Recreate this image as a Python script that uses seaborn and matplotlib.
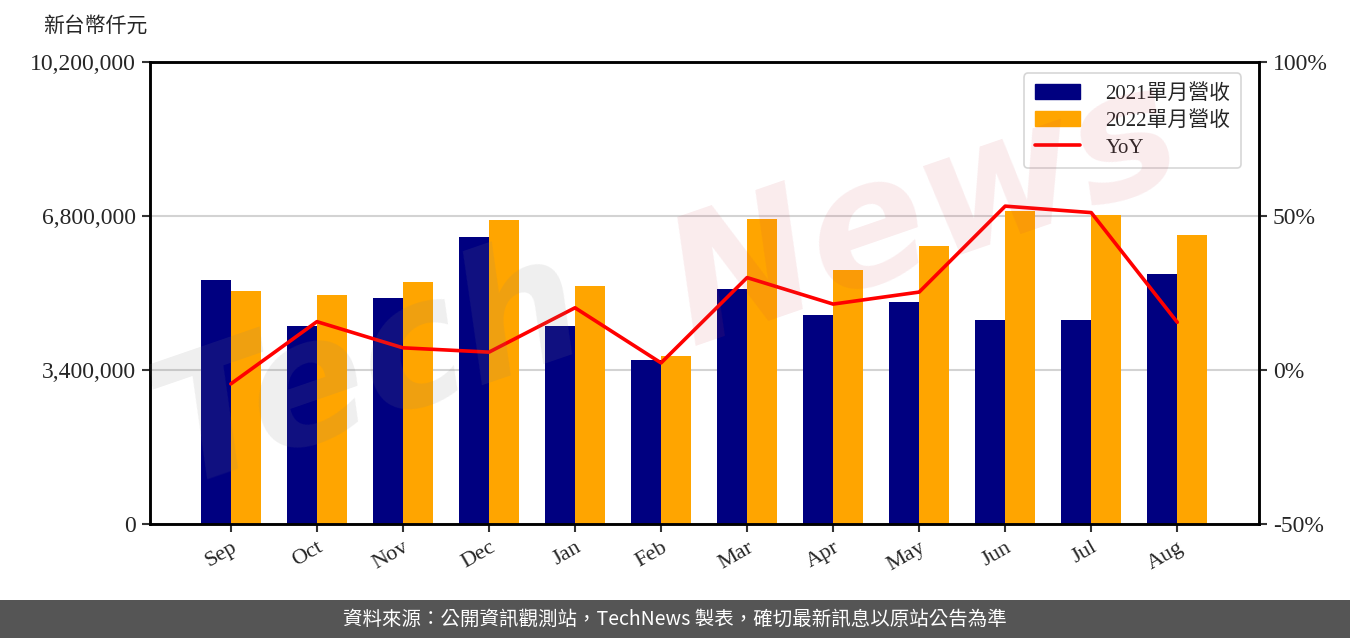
import numpy as np
import pandas as pd
import matplotlib
matplotlib.use("Agg")
import matplotlib.pyplot as plt
from matplotlib.lines import Line2D
from matplotlib.patches import Patch
import seaborn as sns

# data (thousand NTD / %)
months = ["Sep", "Oct", "Nov", "Dec", "Jan", "Feb", "Mar", "Apr", "May", "Jun", "Jul", "Aug"]
rev_2021 = [5387000, 4371000, 4990000, 6336000, 4371000, 3621000,
            5188000, 4614000, 4901000, 4504000, 4504000, 5519000]
rev_2022 = [5144000, 5056000, 5343000, 6712000, 5254000, 3709000,
            6734000, 5608000, 6138000, 6910000, 6822000, 6381000]
yoy = [-4.5, 15.7, 7.2, 5.8, 20.2, 2.3, 30.0, 21.4, 25.3, 53.2, 51.1, 15.5]

left_ticks = [0, 3400000, 6800000, 10200000]
right_ticks = [-50, 0, 50, 100]
label_2021 = "2021單月營收"
label_2022 = "2022單月營收"

sns.set_theme(style="white")
plt.rcParams["font.family"] = ["Liberation Serif", "Noto Sans CJK TC"]
plt.rcParams["axes.unicode_minus"] = False

df = pd.DataFrame({
    "month": months * 2,
    "rev": rev_2021 + rev_2022,
    "year": [label_2021] * len(months) + [label_2022] * len(months),
})

fig = plt.figure(figsize=(13.5, 6.38), dpi=100)
ax = fig.add_axes([150 / 1350, 114 / 638, 1109 / 1350, 462 / 638])

sns.barplot(data=df, x="month", y="rev", hue="year", order=months,
            hue_order=[label_2021, label_2022],
            palette=["#000080", "#FFA500"], width=0.7, saturation=1,
            linewidth=0, legend=False, ax=ax, zorder=2)

ax.set_xlim(-0.94, 11.95)
ax.set_ylim(0, 10200000)
ax.set_yticks(left_ticks)
ax.set_yticklabels([f"{v:,}" for v in left_ticks], fontsize=17)
ax.set_xlabel("")
ax.set_ylabel("")
ax.set_xticks(range(len(months)))
ax.set_xticklabels(months, rotation=30, ha="right", rotation_mode="anchor",
                   fontsize=16)
ax.grid(axis="y", color="#d3d3d3", linewidth=1.5, zorder=0)
ax.set_axisbelow(True)
for s in ax.spines.values():
    s.set_color("black")
    s.set_linewidth(1.8)
ax.tick_params(axis="both", which="both", direction="out", length=6,
               width=1.5, color="#333333", left=True, bottom=True, pad=4)

ax2 = ax.twinx()
sns.lineplot(x=np.arange(len(months)), y=yoy, color="red", linewidth=2.6,
             ax=ax2, zorder=3)
ax2.set_ylim(-50, 100)
ax2.set_yticks(right_ticks)
ax2.set_yticklabels([f"{v}%" for v in right_ticks], fontsize=17)
ax2.set_xlim(-0.94, 11.95)
ax2.tick_params(axis="y", direction="out", length=6, width=1.5,
                color="#333333", right=True, pad=4)
for s in ax2.spines.values():
    s.set_color("black")
    s.set_linewidth(1.8)

handles = [Patch(color="#000080", label=label_2021),
           Patch(color="#FFA500", label=label_2022),
           Line2D([0], [0], color="red", linewidth=2.6, label="YoY")]
leg = ax2.legend(handles=handles, loc="upper right", fontsize=15,
                 frameon=True, bbox_to_anchor=(0.993, 0.998),
                 handlelength=2.2, handletextpad=1.2, borderpad=0.5,
                 labelspacing=0.35)
leg.get_frame().set_edgecolor("#cccccc")
leg.get_frame().set_linewidth(1.2)

# unit label
fig.text(43 / 1350, 1 - 27 / 638, "新台幣仟元", fontsize=15,
         ha="left", va="center")

# faint watermark
fig.text(0.10, 0.24, "Tech", fontsize=125, color="gray", alpha=0.13,
         rotation=19, style="italic", fontweight="bold",
         family="DejaVu Sans", zorder=10)
fig.text(0.48, 0.46, "News", fontsize=125, color="#d04050", alpha=0.1,
         rotation=19, style="italic", fontweight="bold",
         family="DejaVu Sans", zorder=10)

# footer band
fig.patches.append(plt.Rectangle((0, 0), 1, 38 / 638, transform=fig.transFigure,
                                 facecolor="#555555", edgecolor="none", zorder=0))
fig.text(0.5, 19 / 638, "資料來源：公開資訊觀測站，TechNews 製表，確切最新訊息以原站公告為準",
         color="white", fontsize=14, ha="center", va="center",
         family=["Noto Sans CJK TC", "DejaVu Sans"])

fig.savefig("out.png", dpi=100)
